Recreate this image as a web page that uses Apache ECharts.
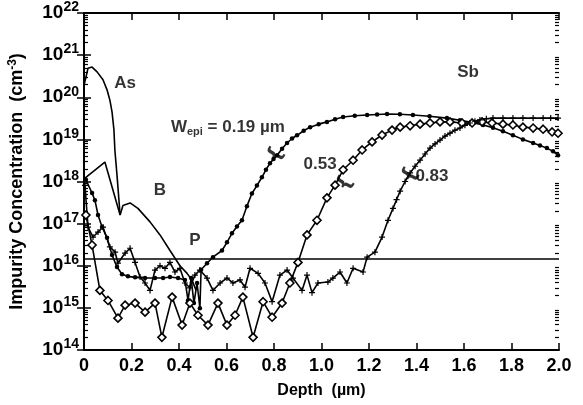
<!DOCTYPE html>
<html lang="en">
<head>
    <meta charset="UTF-8">
    <title>Impurity profiles</title>
    <style>
        html, body { margin: 0; padding: 0; background: #fff; }
        #container { width: 583px; height: 405px; }
    </style>
</head>
<body>
    <div id="container"></div>
    <script src="https://cdn.jsdelivr.net/npm/echarts@6/dist/echarts.min.js"></script>
    <script>
        var FONT = '"Liberation Sans", Arial, Helvetica, sans-serif';

        // [depth (um), concentration (cm-3)]
        var arsenic = [
            [0, 1.9e20], [0.017, 4.9e20], [0.034, 5.2e20], [0.055, 4e20], [0.08, 2.6e20],
            [0.097, 1.5e20], [0.109, 8.5e19], [0.118, 4.5e19], [0.126, 1.7e19],
            [0.13, 5.6e18], [0.139, 1.4e18], [0.152, 1.6e17]
        ];
        var boron = [
            [0.004, 1.2e18], [0.088, 2.9e18], [0.152, 1.6e17], [0.164, 2.7e17], [0.194, 3.1e17],
            [0.227, 2.3e17], [0.278, 1.1e17], [0.32, 5.4e16], [0.362, 2.3e16], [0.404, 1e16],
            [0.434, 6.6e15], [0.455, 4.5e15], [0.472, 2.6e15]
        ];
        // Wepi = 0.19 um (dots)
        var epi019 = [
            [0.008, 1.1e18], [0.034, 5.3e17], [0.046, 3.6e17], [0.059, 1.6e17], [0.076, 8.3e16],
            [0.097, 4.6e16], [0.118, 1.8e16], [0.139, 9.3e15], [0.16, 6.3e15], [0.185, 5.6e15],
            [0.215, 5.3e15], [0.257, 5.1e15], [0.299, 5.1e15], [0.333, 5.1e15], [0.362, 5.4e15],
            [0.396, 5.1e15], [0.425, 4.6e15], [0.438, 1.5e15], [0.451, 5.1e15], [0.463, 1.3e15],
            [0.476, 3.9e15], [0.488, 9.8e14], [0.493, 8e15], [0.518, 1.15e16], [0.543, 1.6e16],
            [0.581, 2.3e16], [0.602, 3.6e16], [0.623, 5.9e16], [0.644, 8.5e16], [0.665, 1.2e17],
            [0.686, 2.6e17], [0.707, 5.2e17], [0.728, 8e17], [0.749, 1.26e18], [0.766, 1.9e18],
            [0.783, 2.7e18], [0.798, 3.4e18], [0.813, 4.2e18], [0.834, 6e18], [0.855, 8.2e18],
            [0.876, 1.05e19], [0.897, 1.25e19], [0.925, 1.6e19], [0.952, 1.95e19], [0.988, 2.3e19],
            [1.023, 2.6e19], [1.057, 3e19], [1.091, 3.4e19], [1.14, 3.65e19], [1.192, 3.8e19],
            [1.234, 3.9e19], [1.276, 4e19], [1.33, 3.95e19], [1.385, 3.8e19], [1.455, 3.55e19],
            [1.528, 3.2e19], [1.583, 2.85e19], [1.638, 2.5e19], [1.68, 2.2e19], [1.722, 1.9e19],
            [1.764, 1.55e19], [1.806, 1.26e19], [1.848, 1e19], [1.891, 8.2e18], [1.92, 7.2e18],
            [1.949, 6.2e18], [1.975, 5.2e18], [1.996, 4.2e18]
        ];
        // Wepi = 0.53 um (diamonds)
        var epi053 = [
            [0.008, 1.6e17], [0.034, 3.1e16], [0.067, 2.6e15], [0.101, 1.5e15], [0.143, 5.7e14],
            [0.173, 1.16e15], [0.215, 1.3e15], [0.257, 7.9e14], [0.299, 1.3e15], [0.328, 2e14],
            [0.371, 1.8e15], [0.413, 3.9e14], [0.446, 1.3e15], [0.48, 6.7e14], [0.522, 3.9e14],
            [0.564, 1.3e15], [0.602, 3.9e14], [0.636, 6.7e14], [0.669, 1.8e15], [0.712, 2e14],
            [0.754, 1.4e15], [0.792, 6e14], [0.834, 1.3e15], [0.867, 3.9e15], [0.901, 1.2e16],
            [0.939, 5.4e16], [0.981, 1.2e17], [1.023, 4.1e17], [1.057, 8.2e17], [1.091, 1.9e18],
            [1.133, 3.2e18], [1.171, 5.6e18], [1.213, 8.7e18], [1.255, 1.27e19], [1.297, 1.66e19],
            [1.331, 1.95e19], [1.373, 2.1e19], [1.415, 2.3e19], [1.457, 2.45e19], [1.499, 2.6e19],
            [1.541, 2.6e19], [1.592, 2.45e19], [1.634, 2.45e19], [1.676, 2.6e19], [1.718, 2.45e19],
            [1.764, 2.3e19], [1.806, 2.2e19], [1.848, 1.95e19], [1.891, 1.86e19], [1.933, 1.74e19],
            [1.971, 1.5e19], [1.996, 1.4e19]
        ];
        // Wepi = 0.83 um (crosses)
        var epi083 = [
            [0.004, 8.1e17], [0.017, 8.3e16], [0.038, 4.8e16], [0.059, 6.3e16], [0.08, 8.3e16],
            [0.109, 2.8e16], [0.131, 2.1e16], [0.143, 1.15e16], [0.173, 2e16], [0.194, 2.6e16],
            [0.215, 1.2e16], [0.236, 5.4e15], [0.257, 3.9e15], [0.278, 2.6e15], [0.299, 7.9e15],
            [0.32, 1e16], [0.341, 8.7e15], [0.362, 1.2e16], [0.383, 7.1e15], [0.404, 8.7e15],
            [0.425, 3.9e15], [0.446, 3e15], [0.467, 6e15], [0.488, 7.9e15], [0.518, 5.1e15],
            [0.543, 2.6e15], [0.573, 3.9e15], [0.602, 5.1e15], [0.627, 3.9e15], [0.657, 4.6e15],
            [0.678, 3.1e15], [0.699, 8.7e15], [0.733, 6.6e15], [0.762, 3.9e15], [0.792, 1.4e15],
            [0.825, 6e15], [0.855, 7.9e15], [0.88, 5.1e15], [0.918, 2.6e15], [0.939, 6e15],
            [0.96, 2.3e15], [0.985, 3.9e15], [1.027, 4.1e15], [1.048, 5.1e15], [1.078, 7.1e15],
            [1.107, 3.9e15], [1.133, 8.7e15], [1.175, 7.1e15], [1.192, 1.6e16], [1.225, 2.1e16],
            [1.255, 4.8e16], [1.28, 1.2e17], [1.301, 2.3e17], [1.316, 3.7e17], [1.331, 5.9e17],
            [1.352, 1e18], [1.373, 1.6e18], [1.394, 2.3e18], [1.415, 3.2e18], [1.436, 4.5e18],
            [1.457, 6.2e18], [1.478, 7.8e18], [1.499, 9.6e18], [1.52, 1.2e19], [1.541, 1.4e19],
            [1.562, 1.65e19], [1.583, 1.86e19], [1.604, 2.15e19], [1.625, 2.45e19], [1.646, 2.7e19],
            [1.667, 2.9e19], [1.694, 3.1e19], [1.722, 3.2e19], [1.764, 3.2e19], [1.806, 3.2e19],
            [1.848, 3.2e19], [1.891, 3.2e19], [1.933, 3.2e19], [1.965, 3.2e19], [1.996, 3.2e19]
        ];
        var refLevel = 1.45e16;

        // [depth, concentration, text]
        var annotations = [
            [0.173, 2.2e20, 'As'],
            [0.32, 6.3e17, 'B'],
            [0.467, 4e16, 'P'],
            [0.606, 1.9e19, '{t|W}{sub|epi}{t| = 0.19 µm}'],
            [0.994, 2.5e18, '0.53'],
            [1.465, 1.35e18, '0.83'],
            [1.617, 4e20, 'Sb']
        ];
        var braces = [[0.808, 4.3e18], [1.099, 9e17], [1.373, 1.4e18]];

        // minor ticks of the log axis: 2..9 x 10^n
        var minorTicks = [];
        for (var e = 14; e < 22; e++) {
            for (var m = 2; m <= 9; m++) minorTicks.push(m * Math.pow(10, e));
        }

        var chart = echarts.init(document.getElementById('container'));

        var plusPath = 'path://M4,0h2v4h4v2h-4v4h-2v-4h-4v-2h4z';

        function lineSeries(data, symbol, size, fill) {
            return {
                type: 'line',
                data: data,
                symbol: symbol,
                symbolSize: size,
                showSymbol: symbol !== 'none',
                lineStyle: { color: '#000', width: 1.6 },
                itemStyle: { color: fill, borderColor: '#000', borderWidth: symbol === 'diamond' ? 1.6 : 0 },
                animation: false
            };
        }

        var xBase = {
            type: 'value', min: 0, max: 2, interval: 0.2,
            axisLine: { lineStyle: { color: '#000', width: 2 } },
            axisTick: { inside: true, length: 7, lineStyle: { color: '#000', width: 1.5 } },
            splitLine: { show: false }
        };
        var yBase = {
            type: 'log', logBase: 10, min: 1e14, max: 1e22, splitNumber: 8,
            axisLine: { lineStyle: { color: '#000', width: 2 } },
            axisTick: { inside: true, length: 7, lineStyle: { color: '#000', width: 1.5 } },
            splitLine: { show: false }
        };
        var yMinor = Object.assign({}, yBase, {
            axisLine: { show: false },
            axisLabel: { show: false },
            axisTick: { inside: true, length: 4, customValues: minorTicks, lineStyle: { color: '#000', width: 1.2 } }
        });

        var option = {
            backgroundColor: '#fff',
            animation: false,
            grid: { left: 84, right: 24, top: 13, bottom: 55, containLabel: false, outerBoundsMode: 'none' },
            xAxis: [
                Object.assign({}, xBase, {
                    position: 'bottom',
                    name: 'Depth  (µm)',
                    nameLocation: 'middle',
                    nameGap: 33,
                    nameTextStyle: { fontFamily: FONT, fontWeight: 'bold', fontSize: 16, color: '#000' },
                    axisLabel: {
                        margin: 7,
                        fontFamily: FONT, fontWeight: 'bold', fontSize: 18, color: '#000',
                        formatter: function (v) { return v === 0 ? '0' : v.toFixed(1); }
                    }
                }),
                Object.assign({}, xBase, { position: 'top', axisLabel: { show: false } })
            ],
            yAxis: [
                Object.assign({}, yBase, {
                    position: 'left',
                    name: 'Impurity Concentration  (cm{sup|-3})',
                    nameLocation: 'middle',
                    nameGap: 56,
                    nameTextStyle: {
                        fontFamily: FONT, fontWeight: 'bold', fontSize: 18, color: '#000',
                        rich: { sup: { fontFamily: FONT, fontWeight: 'bold', fontSize: 12, color: '#000', verticalAlign: 'top', padding: [0, 0, 9, 0] } }
                    },
                    axisLabel: {
                        margin: 5,
                        formatter: function (v) { return '{b|10}{s|' + Math.round(Math.log10(v)) + '}'; },
                        rich: {
                            b: { fontFamily: FONT, fontWeight: 'bold', fontSize: 19, color: '#000' },
                            s: { fontFamily: FONT, fontWeight: 'bold', fontSize: 14, color: '#000', verticalAlign: 'top', padding: [0, 0, 11, 0] }
                        }
                    }
                }),
                Object.assign({}, yBase, { position: 'right', axisLabel: { show: false } }),
                Object.assign({}, yMinor, { position: 'left' }),
                Object.assign({}, yMinor, { position: 'right' })
            ],
            series: [
                lineSeries(arsenic, 'none', 0, '#000'),
                lineSeries(boron, 'none', 0, '#000'),
                lineSeries(epi019, 'circle', 4.5, '#000'),
                lineSeries(epi053, 'diamond', 8, '#fff'),
                lineSeries(epi083, plusPath, 6, '#000'),
                {
                    type: 'line',
                    data: [[0, refLevel], [2, refLevel]],
                    symbol: 'none',
                    lineStyle: { color: '#000', width: 1.5 },
                    animation: false
                },
                {
                    type: 'scatter',
                    data: annotations.map(function (a) { return { value: [a[0], a[1]], name: a[2] }; }),
                    symbolSize: 0,
                    itemStyle: { color: '#000' },
                    label: {
                        show: true, position: [0, 0], align: 'center', verticalAlign: 'middle',
                        formatter: function (p) { return p.name; },
                        fontFamily: FONT, fontWeight: 'bold', fontSize: 17, color: '#000',
                        rich: {
                            t: { fontFamily: FONT, fontWeight: 'bold', fontSize: 17, color: '#000' },
                            sub: { fontFamily: FONT, fontWeight: 'bold', fontSize: 11, color: '#000', verticalAlign: 'bottom', padding: [9, 0, 0, 0] }
                        }
                    },
                    animation: false
                },
                {
                    type: 'scatter',
                    data: braces,
                    symbolSize: 0,
                    itemStyle: { color: '#000' },
                    label: {
                        show: true, position: [0, 0], align: 'center', verticalAlign: 'middle',
                        formatter: '{', rotate: 60,
                        fontFamily: 'DejaVu Sans', fontWeight: 'bold', fontSize: 20, color: '#000'
                    },
                    animation: false
                }
            ]
        };
        chart.setOption(option);
    </script>
</body>
</html>
